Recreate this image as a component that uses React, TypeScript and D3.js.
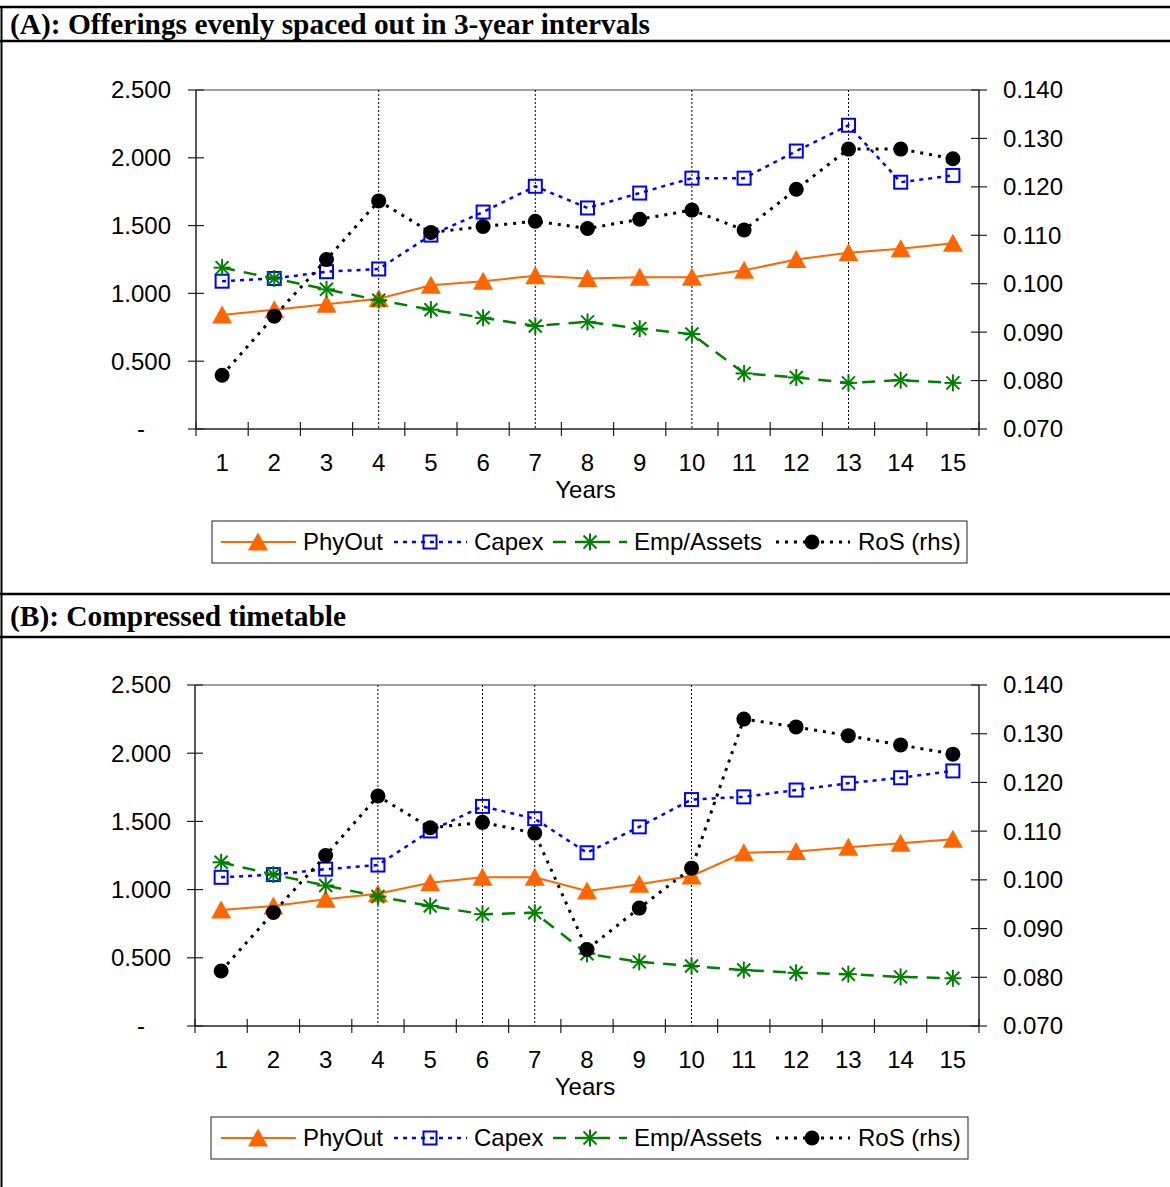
import React from "react";
import * as d3 from "d3";

const years = [1, 2, 3, 4, 5, 6, 7, 8, 9, 10, 11, 12, 13, 14, 15];
const leftTicks = [0, 0.5, 1.0, 1.5, 2.0, 2.5];
const rightTicks = [0.07, 0.08, 0.09, 0.1, 0.11, 0.12, 0.13, 0.14];

const phyOutA = [0.84, 0.88, 0.92, 0.96, 1.06, 1.09, 1.13, 1.11, 1.12, 1.12, 1.17, 1.25, 1.3, 1.33, 1.37];
const capexA = [1.09, 1.11, 1.16, 1.18, 1.43, 1.6, 1.79, 1.63, 1.74, 1.85, 1.85, 2.05, 2.24, 1.82, 1.87];
const empA = [1.19, 1.11, 1.03, 0.95, 0.88, 0.82, 0.76, 0.79, 0.74, 0.7, 0.41, 0.38, 0.34, 0.36, 0.34];
const rosA = [0.0811, 0.0933, 0.105, 0.1171, 0.1106, 0.1118, 0.1129, 0.1114, 0.1133, 0.1152, 0.1111, 0.1195, 0.1278, 0.1278, 0.1258];
const offeringsA = [4, 7, 10, 13];

const phyOutB = [0.85, 0.88, 0.93, 0.97, 1.05, 1.09, 1.09, 0.99, 1.04, 1.1, 1.27, 1.28, 1.31, 1.34, 1.37];
const capexB = [1.09, 1.11, 1.15, 1.18, 1.43, 1.61, 1.52, 1.27, 1.46, 1.66, 1.68, 1.73, 1.78, 1.82, 1.87];
const empB = [1.2, 1.11, 1.03, 0.95, 0.88, 0.82, 0.83, 0.53, 0.47, 0.44, 0.41, 0.39, 0.38, 0.36, 0.35];
const rosB = [0.0813, 0.0933, 0.105, 0.1172, 0.1107, 0.1118, 0.1096, 0.0857, 0.0942, 0.1024, 0.133, 0.1314, 0.1296, 0.1277, 0.1258];
const offeringsB = [4, 6, 7, 10];

const titleA = "(A): Offerings evenly spaced out in 3-year intervals";
const titleB = "(B): Compressed timetable";
const xTitle = "Years";
const seriesNames = ["PhyOut", "Capex", "Emp/Assets", "RoS (rhs)"];

const SANS = "'Liberation Sans', Arial, sans-serif";
const SERIF = "'Liberation Serif', 'Times New Roman', serif";
const ORANGE = "#FF6600";
const BLUE = "#0000FF";
const GREEN = "#008000";
const FS = 24;

function Triangle({ x, y }: { x: number; y: number }) {
  return <path d={`M${x},${y - 9.5} L${x + 10},${y + 8.5} L${x - 10},${y + 8.5} Z`} fill={ORANGE} />;
}
function Square({ x, y }: { x: number; y: number }) {
  return <rect x={x - 6.5} y={y - 6.5} width={13} height={13} fill="none" stroke={BLUE} strokeWidth={2} />;
}
function Star({ x, y }: { x: number; y: number }) {
  const r = 8.5;
  const d = 6.5;
  return (
    <g stroke={GREEN} strokeWidth={2}>
      <line x1={x} y1={y - r} x2={x} y2={y + r} />
      <line x1={x - d} y1={y - d} x2={x + d} y2={y + d} />
      <line x1={x - d} y1={y + d} x2={x + d} y2={y - d} />
      <line x1={x - r} y1={y} x2={x + r} y2={y} />
    </g>
  );
}
function Dot({ x, y }: { x: number; y: number }) {
  return <circle cx={x} cy={y} r={7.5} fill="#000" />;
}

type PanelProps = {
  top: number;
  bottom: number;
  left: number;
  right: number;
  phy: number[];
  capex: number[];
  emp: number[];
  ros: number[];
  offerings: number[];
  labelY: number;
  xTitleY: number;
  legendY: number;
  legendX0: number;
  legendX1: number;
};

function Panel(p: PanelProps) {
  const x = d3.scaleBand<number>().domain(years).range([p.left, p.right]).padding(0);
  const bw = x.bandwidth();
  const cx = (yr: number) => (x(yr) as number) + bw / 2;
  const yL = d3.scaleLinear().domain([0, 2.5]).range([p.bottom, p.top]);
  const yR = d3.scaleLinear().domain([0.07, 0.14]).range([p.bottom, p.top]);
  const lineL = d3.line<number>().x((_, i) => cx(years[i])).y((v) => yL(v));
  const lineR = d3.line<number>().x((_, i) => cx(years[i])).y((v) => yR(v));
  const fmtL = (v: number) => (v === 0 ? "-" : d3.format(".3f")(v));
  const fmtR = d3.format(".3f");
  const boundaries = years.map((yr) => x(yr) as number).concat([p.right]);
  const ly = p.legendY;
  const lh = 42;
  const lm = ly + lh / 2;

  return (
    <g>
      <line x1={p.left} y1={p.top} x2={p.right} y2={p.top} stroke="#808080" strokeWidth={1.5} />
      {p.offerings.map((o) => (
        <line key={o} x1={cx(o)} y1={p.top} x2={cx(o)} y2={p.bottom} stroke="#000" strokeWidth={1} strokeDasharray="2,2" />
      ))}
      <line x1={p.left} y1={p.top} x2={p.left} y2={p.bottom} stroke="#222" strokeWidth={1.5} />
      <line x1={p.right} y1={p.top} x2={p.right} y2={p.bottom} stroke="#222" strokeWidth={1.5} />
      <line x1={p.left} y1={p.bottom} x2={p.right} y2={p.bottom} stroke="#222" strokeWidth={1.5} />
      {leftTicks.map((t) => (
        <g key={"l" + t}>
          <line x1={p.left - 8} x2={p.left + 8} y1={yL(t)} y2={yL(t)} stroke="#222" strokeWidth={1.2} />
          <text
            x={t === 0 ? 141 : 171}
            y={yL(t)}
            dy="0.35em"
            textAnchor={t === 0 ? "middle" : "end"}
            fontFamily={SANS}
            fontSize={FS}
            fill="#000"
          >
            {fmtL(t)}
          </text>
        </g>
      ))}
      {rightTicks.map((t) => (
        <g key={"r" + t}>
          <line x1={p.right - 8} x2={p.right + 8} y1={yR(t)} y2={yR(t)} stroke="#222" strokeWidth={1.2} />
          <text x={1003} y={yR(t)} dy="0.35em" textAnchor="start" fontFamily={SANS} fontSize={FS} fill="#000">
            {fmtR(t)}
          </text>
        </g>
      ))}
      {boundaries.map((b, i) => (
        <line key={"xt" + i} x1={b} x2={b} y1={p.bottom - 7} y2={p.bottom + 7} stroke="#222" strokeWidth={1.2} />
      ))}
      {years.map((yr) => (
        <text key={"xl" + yr} x={cx(yr)} y={p.labelY} textAnchor="middle" fontFamily={SANS} fontSize={FS} fill="#000">
          {yr}
        </text>
      ))}
      <text x={(p.left + p.right) / 2 - 2} y={p.xTitleY} textAnchor="middle" fontFamily={SANS} fontSize={FS} fill="#000">
        {xTitle}
      </text>

      <path d={lineL(p.phy) || ""} fill="none" stroke={ORANGE} strokeWidth={2} />
      {p.phy.map((v, i) => (
        <Triangle key={"t" + i} x={cx(years[i])} y={yL(v)} />
      ))}
      <path d={lineL(p.capex) || ""} fill="none" stroke={BLUE} strokeWidth={2.5} strokeDasharray="4,5" />
      {p.capex.map((v, i) => (
        <Square key={"s" + i} x={cx(years[i])} y={yL(v)} />
      ))}
      <path d={lineL(p.emp) || ""} fill="none" stroke={GREEN} strokeWidth={2.5} strokeDasharray="13,9" />
      {p.emp.map((v, i) => (
        <Star key={"e" + i} x={cx(years[i])} y={yL(v)} />
      ))}
      <path d={lineR(p.ros) || ""} fill="none" stroke="#000" strokeWidth={3} strokeDasharray="3,6" />
      {p.ros.map((v, i) => (
        <Dot key={"d" + i} x={cx(years[i])} y={yR(v)} />
      ))}

      <rect x={p.legendX0} y={ly} width={p.legendX1 - p.legendX0} height={lh} fill="#fff" stroke="#222" strokeWidth={1} />
      <line x1={221} x2={296} y1={lm} y2={lm} stroke={ORANGE} strokeWidth={2} />
      <Triangle x={258} y={lm} />
      <text x={303} y={lm} dy="0.35em" fontFamily={SANS} fontSize={FS}>{seriesNames[0]}</text>
      <line x1={394} x2={467} y1={lm} y2={lm} stroke={BLUE} strokeWidth={2.5} strokeDasharray="4,5" />
      <Square x={430} y={lm} />
      <text x={474} y={lm} dy="0.35em" fontFamily={SANS} fontSize={FS}>{seriesNames[1]}</text>
      <line x1={553} x2={627} y1={lm} y2={lm} stroke={GREEN} strokeWidth={2.5} strokeDasharray="13,9" />
      <Star x={590} y={lm} />
      <text x={634} y={lm} dy="0.35em" fontFamily={SANS} fontSize={FS}>{seriesNames[2]}</text>
      <line x1={776} x2={850} y1={lm} y2={lm} stroke="#000" strokeWidth={3} strokeDasharray="3,6" />
      <Dot x={812} y={lm} />
      <text x={858} y={lm} dy="0.35em" fontFamily={SANS} fontSize={FS}>{seriesNames[3]}</text>
    </g>
  );
}

export default function App() {
  return (
    <svg
      width={1170}
      height={1187}
      viewBox="0 0 1170 1187"
      style={{ position: "absolute", left: 0, top: 0, background: "#fff" }}
    >
      <rect x={0} y={0} width={1170} height={1187} fill="#fff" />
      <line x1={1.5} y1={6} x2={1.5} y2={1187} stroke="#000" strokeWidth={2} />
      <line x1={0} y1={7} x2={1170} y2={7} stroke="#000" strokeWidth={2.5} />
      <line x1={0} y1={41} x2={1170} y2={41} stroke="#000" strokeWidth={2.5} />
      <line x1={0} y1={594} x2={1170} y2={594} stroke="#000" strokeWidth={2.5} />
      <line x1={0} y1={637} x2={1170} y2={637} stroke="#000" strokeWidth={2.5} />
      <text x={10} y={34} fontFamily={SERIF} fontWeight="bold" fontSize={29} textLength={640} lengthAdjust="spacingAndGlyphs">
        {titleA}
      </text>
      <text x={10} y={626} fontFamily={SERIF} fontWeight="bold" fontSize={29} textLength={336} lengthAdjust="spacingAndGlyphs">
        {titleB}
      </text>

      <Panel
        top={90}
        bottom={429}
        left={196}
        right={979}
        phy={phyOutA}
        capex={capexA}
        emp={empA}
        ros={rosA}
        offerings={offeringsA}
        labelY={471}
        xTitleY={498}
        legendY={521}
        legendX0={212}
        legendX1={967}
      />
      <Panel
        top={685}
        bottom={1026}
        left={195}
        right={979}
        phy={phyOutB}
        capex={capexB}
        emp={empB}
        ros={rosB}
        offerings={offeringsB}
        labelY={1068}
        xTitleY={1095}
        legendY={1117}
        legendX0={211}
        legendX1={968}
      />
    </svg>
  );
}
